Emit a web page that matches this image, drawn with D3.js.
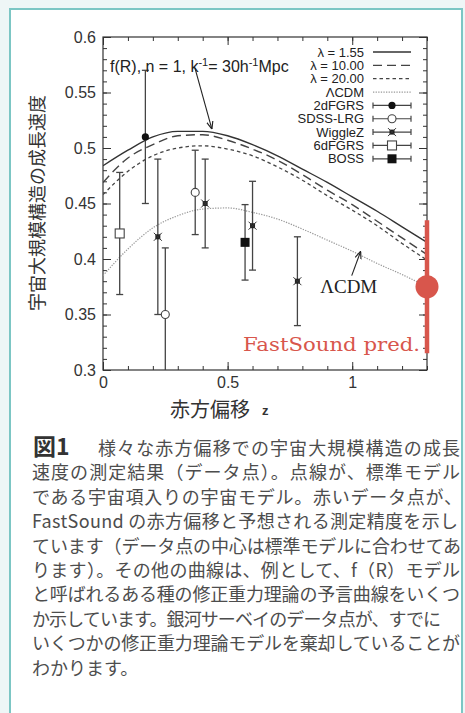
<!DOCTYPE html>
<html>
<head>
<meta charset="utf-8">
<script src="https://cdn.jsdelivr.net/npm/d3@7"></script>
<style>
  body { margin: 0; background: #eef6f6; }
  svg { display: block; }
</style>
</head>
<body>
<svg id="fig" width="465" height="713"></svg>
<script>
// model curves, sampled on a redshift grid
const zGrid = [0, 0.1, 0.2, 0.3, 0.4, 0.5, 0.6, 0.7, 0.8, 0.9, 1.0, 1.1, 1.2, 1.3];
const lam155 = [0.484, 0.498, 0.510, 0.515, 0.515, 0.511, 0.503, 0.493, 0.481, 0.469, 0.456, 0.443, 0.429, 0.415];
const lam10  = [0.469, 0.491, 0.503, 0.511, 0.512, 0.507, 0.499, 0.489, 0.476, 0.462, 0.449, 0.434, 0.419, 0.404];
const lam20  = [0.458, 0.479, 0.493, 0.500, 0.502, 0.499, 0.493, 0.483, 0.471, 0.457, 0.444, 0.430, 0.414, 0.399];
const lcdm   = [0.385, 0.409, 0.428, 0.439, 0.445, 0.446, 0.442, 0.436, 0.427, 0.417, 0.407, 0.396, 0.386, 0.375];

// survey measurements
const obsSurvey = ["6dFGRS", "2dFGRS", "WiggleZ", "SDSS-LRG", "SDSS-LRG", "WiggleZ", "BOSS", "WiggleZ", "WiggleZ"];
const obsZ      = [0.067, 0.17, 0.22, 0.25, 0.37, 0.41, 0.57, 0.60, 0.78];
const obsF      = [0.423, 0.51, 0.42, 0.35, 0.46, 0.45, 0.415, 0.43, 0.38];
const obsErr    = [0.055, 0.06, 0.07, 0.06, 0.038, 0.04, 0.034, 0.04, 0.04];

// FastSound prediction
const fsZ = 1.3, fsF = 0.375, fsErr = 0.06;

const yTicks = [0.3, 0.35, 0.4, 0.45, 0.5, 0.55, 0.6];
const xTicks = [0, 0.5, 1];

const legendLabels = ["λ =  1.55", "λ = 10.00", "λ = 20.00", "ΛCDM", "2dFGRS", "SDSS-LRG", "WiggleZ", "6dFGRS", "BOSS"];

const captionHead = "図1";
const captionLines = [
  "様々な赤方偏移での宇宙大規模構造の成長",
  "速度の測定結果（データ点）。点線が、標準モデル",
  "である宇宙項入りの宇宙モデル。赤いデータ点が、",
  "FastSound の赤方偏移と予想される測定精度を示し",
  "ています（データ点の中心は標準モデルに合わせてあ",
  "ります）。その他の曲線は、例として、f（R）モデル",
  "と呼ばれるある種の修正重力理論の予言曲線をいくつ",
  "か示しています。銀河サーベイのデータ点が、すでに",
  "いくつかの修正重力理論モデルを棄却していることが",
  "わかります。"
];
// right end of each caption line (null = natural width)
const captionEnds = [460, 460, 462, 458, 461, 460, 460, 441, 460, null];

const svg = d3.select("#fig");
const sans = "'Liberation Sans', Arial, sans-serif";
const jp = "'Noto Sans CJK JP', sans-serif";
const red = "#d8564c";
const ink = "#333";

// panel box
svg.append("rect")
  .attr("x", 10).attr("y", 9).attr("width", 452).attr("height", 720)
  .attr("fill", "#fff").attr("stroke", "#7cc6c4").attr("stroke-width", 2);

const pLeft = 103, pRight = 427, pTop = 37, pBottom = 370;
const x = d3.scaleLinear().domain([0, 1.3]).range([pLeft, pRight]);
const y = d3.scaleLinear().domain([0.3, 0.6]).range([pBottom, pTop]);

svg.append("clipPath").attr("id", "plotclip")
  .append("rect").attr("x", pLeft).attr("y", pTop).attr("width", pRight - pLeft).attr("height", pBottom - pTop);

// axes with inward ticks on all four sides
function tickAxis(axisFn, scale, values, size, pos, labels) {
  const ax = axisFn(scale).tickValues(values).tickSize(-size).tickPadding(7);
  ax.tickFormat(labels ? (d => String(+d.toFixed(2))) : "");
  const g = svg.append("g").attr("transform", pos).call(ax);
  g.select(".domain").remove();
  g.selectAll("line").attr("stroke", ink);
  g.selectAll("text").attr("font-family", sans).attr("font-size", 16).attr("fill", ink);
  return g;
}
const yMinor = d3.range(30, 61).map(i => i / 100);
const xMinor = d3.range(0, 14).map(i => i / 10);

tickAxis(d3.axisLeft, y, yMinor, 4, `translate(${pLeft},0)`, false);
tickAxis(d3.axisLeft, y, yTicks, 8, `translate(${pLeft},0)`, true);
tickAxis(d3.axisRight, y, yMinor, 4, `translate(${pRight},0)`, false);
tickAxis(d3.axisRight, y, yTicks, 8, `translate(${pRight},0)`, false);
tickAxis(d3.axisBottom, x, xMinor, 4, `translate(0,${pBottom})`, false);
tickAxis(d3.axisBottom, x, xTicks, 8, `translate(0,${pBottom})`, true);
tickAxis(d3.axisTop, x, xMinor, 4, `translate(0,${pTop})`, false);
tickAxis(d3.axisTop, x, xTicks, 8, `translate(0,${pTop})`, false);

svg.append("rect")
  .attr("x", pLeft).attr("y", pTop).attr("width", pRight - pLeft).attr("height", pBottom - pTop)
  .attr("fill", "none").attr("stroke", ink).attr("stroke-width", 1.2);

// curves
const plot = svg.append("g").attr("clip-path", "url(#plotclip)");
const line = d3.line().x(d => x(d[0])).y(d => y(d[1])).curve(d3.curveMonotoneX);

const curveStyles = [
  { vals: lam155, stroke: "#333", width: 1.4, dash: null },
  { vals: lam10,  stroke: "#444", width: 1.4, dash: "9,5" },
  { vals: lam20,  stroke: "#444", width: 1.3, dash: "3.5,3" },
  { vals: lcdm,   stroke: "#999", width: 1.2, dash: "1.3,1.3" }
];
curveStyles.forEach(c => {
  plot.append("path")
    .attr("d", line(zGrid.map((z, i) => [z, c.vals[i]])))
    .attr("fill", "none")
    .attr("stroke", c.stroke)
    .attr("stroke-width", c.width)
    .attr("stroke-dasharray", c.dash);
});

// markers
function drawMarker(g, type, cx, cy) {
  if (type === "2dFGRS") {
    g.append("circle").attr("cx", cx).attr("cy", cy).attr("r", 3.6).attr("fill", "#111");
  } else if (type === "SDSS-LRG") {
    g.append("circle").attr("cx", cx).attr("cy", cy).attr("r", 4).attr("fill", "#fff").attr("stroke", "#444").attr("stroke-width", 1.1);
  } else if (type === "WiggleZ") {
    g.append("rect").attr("x", cx - 2.5).attr("y", cy - 2.5).attr("width", 5).attr("height", 5).attr("fill", "#222");
    g.append("path").attr("d", `M${cx - 4},${cy - 4}L${cx + 4},${cy + 4}M${cx - 4},${cy + 4}L${cx + 4},${cy - 4}`)
      .attr("stroke", "#333").attr("stroke-width", 1);
  } else if (type === "6dFGRS") {
    g.append("rect").attr("x", cx - 4.5).attr("y", cy - 4.5).attr("width", 9).attr("height", 9)
      .attr("fill", "#fff").attr("stroke", "#444").attr("stroke-width", 1.1);
  } else if (type === "BOSS") {
    g.append("rect").attr("x", cx - 4.5).attr("y", cy - 4.5).attr("width", 9).attr("height", 9).attr("fill", "#111");
  }
}

// error bars
obsZ.forEach((z, i) => {
  const cx = x(z);
  const g = plot.append("g").attr("stroke", "#444").attr("stroke-width", 1.3);
  g.append("line").attr("x1", cx).attr("x2", cx).attr("y1", y(obsF[i] - obsErr[i])).attr("y2", y(obsF[i] + obsErr[i]));
  [obsF[i] - obsErr[i], obsF[i] + obsErr[i]].forEach(v => {
    g.append("line").attr("x1", cx - 3.5).attr("x2", cx + 3.5).attr("y1", y(v)).attr("y2", y(v));
  });
  drawMarker(plot, obsSurvey[i], cx, y(obsF[i]));
});

// FastSound
svg.append("line")
  .attr("x1", x(fsZ)).attr("x2", x(fsZ))
  .attr("y1", y(fsF - fsErr)).attr("y2", y(fsF + fsErr))
  .attr("stroke", red).attr("stroke-width", 4.5);
svg.append("circle").attr("cx", x(fsZ)).attr("cy", y(fsF)).attr("r", 11.5).attr("fill", red);
svg.append("text")
  .attr("x", x(0.562)).attr("y", y(0.317))
  .attr("font-family", "'DejaVu Serif', serif").attr("font-size", 19)
  .attr("textLength", 177).attr("lengthAdjust", "spacingAndGlyphs")
  .attr("fill", red).text("FastSound pred.");

// annotations
const defs = svg.append("defs");
defs.append("marker").attr("id", "arr").attr("viewBox", "0 0 10 10")
  .attr("refX", 10).attr("refY", 5).attr("markerWidth", 7).attr("markerHeight", 7)
  .attr("orient", "auto")
  .append("path").attr("d", "M0,1L10,5L0,9").attr("fill", "none").attr("stroke", "#222").attr("stroke-width", 1.5);

function arrow(z1, f1, z2, f2) {
  svg.append("line")
    .attr("x1", x(z1)).attr("y1", y(f1)).attr("x2", x(z2)).attr("y2", y(f2))
    .attr("stroke", "#222").attr("stroke-width", 1.1).attr("marker-end", "url(#arr)");
}
arrow(0.369, 0.572, 0.437, 0.517);
arrow(0.998, 0.385, 1.034, 0.407);

svg.append("text")
  .attr("x", x(0.986)).attr("y", y(0.369)).attr("text-anchor", "middle")
  .attr("font-family", "'Liberation Serif', serif").attr("font-size", 19).attr("fill", "#222")
  .text("ΛCDM");

const fr = svg.append("text")
  .attr("x", x(0.028)).attr("y", y(0.5685))
  .attr("font-family", sans).attr("font-size", 16).attr("fill", "#222");
fr.append("tspan").text("f(R), n = 1, k");
fr.append("tspan").attr("font-size", 11).attr("dy", -6).text("-1");
fr.append("tspan").attr("dy", 6).text("= 30h");
fr.append("tspan").attr("font-size", 11).attr("dy", -6).text("-1");
fr.append("tspan").attr("dy", 6).text("Mpc");

// legend
const legX = 364, legY0 = 52, legDy = 13.35, sampleX1 = 373, sampleX2 = 411;
legendLabels.forEach((lab, i) => {
  const ly = legY0 + i * legDy;
  svg.append("text")
    .attr("x", legX).attr("y", ly + 4.5).attr("text-anchor", "end")
    .attr("font-family", sans).attr("font-size", 13).attr("fill", "#222")
    .text(lab);
  if (i < 4) {
    const c = curveStyles[i];
    svg.append("line").attr("x1", sampleX1).attr("x2", sampleX2).attr("y1", ly).attr("y2", ly)
      .attr("stroke", c.stroke).attr("stroke-width", c.width).attr("stroke-dasharray", c.dash);
  } else {
    const g = svg.append("g").attr("stroke", "#444").attr("stroke-width", 1.2);
    g.append("line").attr("x1", sampleX1).attr("x2", sampleX2).attr("y1", ly).attr("y2", ly);
    g.append("line").attr("x1", sampleX1).attr("x2", sampleX1).attr("y1", ly - 3).attr("y2", ly + 3);
    g.append("line").attr("x1", sampleX2).attr("x2", sampleX2).attr("y1", ly - 3).attr("y2", ly + 3);
    drawMarker(svg, lab, (sampleX1 + sampleX2) / 2, ly);
  }
});

// axis titles
svg.append("text")
  .attr("transform", "translate(44,203) rotate(-90)")
  .attr("text-anchor", "middle")
  .attr("font-family", jp).attr("font-size", 18).attr("fill", ink)
  .text("宇宙大規模構造の成長速度");

svg.append("text")
  .attr("x", 210).attr("y", 417).attr("text-anchor", "middle")
  .attr("font-family", jp).attr("font-size", 20).attr("fill", ink)
  .text("赤方偏移");
svg.append("text")
  .attr("x", 262).attr("y", 415)
  .attr("font-family", sans).attr("font-size", 13).attr("font-weight", "bold").attr("fill", ink)
  .text("z");

// caption
svg.append("text")
  .attr("x", 33).attr("y", 455)
  .attr("font-family", jp).attr("font-size", 23).attr("font-weight", "bold").attr("fill", "#333")
  .text(captionHead);

const capX0 = 32, capY0 = 455, capDy = 24.4;
captionLines.forEach((t, i) => {
  const tx = i === 0 ? 98 : capX0;
  const txt = svg.append("text")
    .attr("x", tx).attr("y", capY0 + i * capDy)
    .attr("font-family", jp).attr("font-size", 18).attr("fill", "#4d4d4d")
    .text(t);
  if (captionEnds[i] !== null) {
    txt.attr("textLength", captionEnds[i] - tx).attr("lengthAdjust", "spacing");
  }
});
</script>
</body>
</html>
